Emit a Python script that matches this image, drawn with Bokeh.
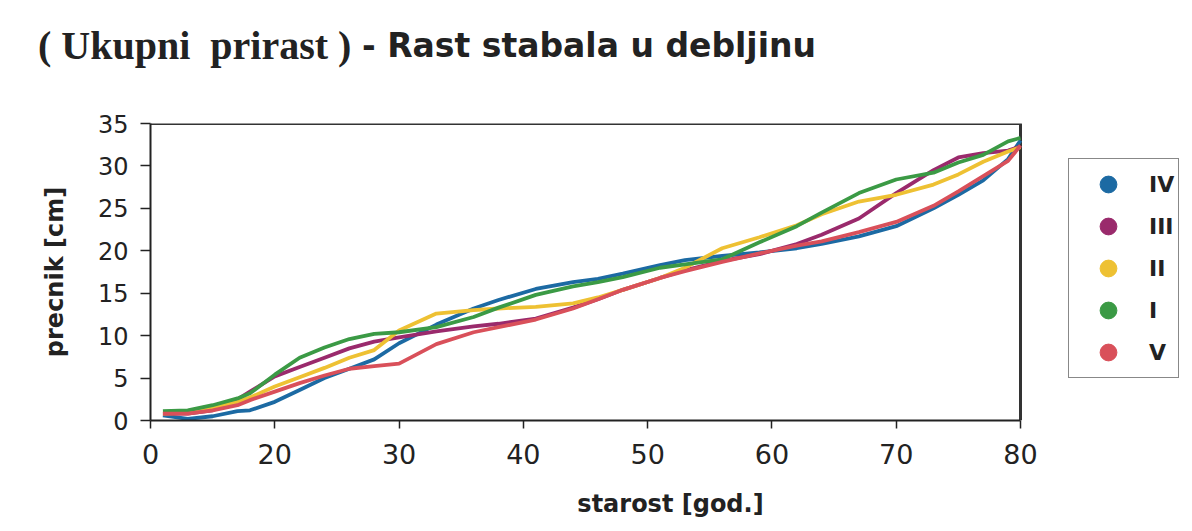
from bokeh.plotting import figure
from bokeh.layouts import column
from bokeh.models import Range1d, FixedTicker, Legend, LegendItem, Div
from bokeh.embed import file_html
from bokeh.resources import INLINE

# ---- data ----
ages = [11, 13, 15, 17, 18, 20, 22, 24, 26, 28, 30, 33, 36, 38, 41, 44, 46, 48,
        51, 53, 56, 59, 62, 64, 67, 70, 73, 75, 77, 79, 80]

iv  = [0.6, 0.2, 0.5, 1.1, 1.2, 2.2, 3.6, 5.0, 6.1, 7.2, 9.1, 11.3, 13.2, 14.2, 15.5, 16.3, 16.7, 17.3,
       18.3, 18.9, 19.4, 19.8, 20.3, 20.8, 21.7, 22.9, 25.0, 26.6, 28.3, 30.8, 33.0]
iii = [0.8, 0.8, 1.2, 2.5, 3.4, 5.2, 6.3, 7.4, 8.5, 9.3, 9.8, 10.5, 11.1, 11.4, 12.0, 13.3, 14.3, 15.4,
       16.8, 17.7, 18.8, 19.6, 20.8, 21.9, 23.8, 26.8, 29.5, 31.0, 31.5, 31.8, 32.3]
ii  = [0.8, 0.9, 1.5, 2.2, 2.7, 4.0, 5.1, 6.2, 7.4, 8.3, 10.6, 12.6, 13.0, 13.2, 13.4, 13.8, 14.5, 15.4,
       16.8, 18.0, 20.3, 21.6, 23.0, 24.3, 25.8, 26.6, 27.8, 29.0, 30.5, 31.7, 32.2]
i_  = [1.1, 1.2, 1.8, 2.6, 3.2, 5.4, 7.4, 8.6, 9.6, 10.2, 10.4, 11.0, 12.2, 13.3, 14.8, 15.8, 16.3, 16.9,
       18.0, 18.4, 19.0, 21.0, 22.9, 24.5, 26.8, 28.4, 29.2, 30.4, 31.3, 32.9, 33.3]
v   = [0.8, 0.8, 1.2, 1.8, 2.4, 3.4, 4.4, 5.3, 6.1, 6.4, 6.7, 9.0, 10.4, 11.0, 11.9, 13.2, 14.3, 15.4,
       16.8, 17.6, 18.7, 19.7, 20.6, 21.1, 22.2, 23.4, 25.3, 27.0, 28.8, 30.6, 32.4]

series_names = ["IV", "III", "II", "I", "V"]
series_values = [iv, iii, ii, i_, v]
series_colors = ["#1c6aa3", "#9a2a6c", "#eec133", "#3b9a45", "#d9505a"]

x_min, x_max = 10, 80
y_min, y_max = 0, 35
x_tick_values = [10, 20, 30, 40, 50, 60, 70, 80]
x_tick_labels = ["0", "20", "30", "40", "50", "60", "70", "80"]
y_tick_values = [0, 5, 10, 15, 20, 25, 30, 35]

title_part1 = "( Ukupni&nbsp; prirast )"
title_part2 = "- Rast stabala u debljinu"

W = 1190

# ---- title ----
title_html = (
    '<div style="position:relative;width:%dpx;height:88px;color:#222222;">' % W +
    '<span style="position:absolute;left:38px;top:17px;white-space:nowrap;'
    'font-family:\'Liberation Serif\';font-weight:bold;font-size:40px;">' + title_part1 + '</span>'
    '<span style="position:absolute;left:362px;top:22px;white-space:nowrap;'
    'font-family:\'DejaVu Sans\';font-weight:bold;font-size:33px;">' + title_part2 + '</span>'
    '</div>'
)
title_div = Div(text=title_html, width=W, height=88, margin=0)

# ---- main chart ----
# plot box is 870 px wide for x 10..80; the frame continues to the right edge to host the legend
H = 435
left_border, box_width = 150, 870
x_end = x_min + (x_max - x_min) * (W - left_border) / box_width

p = figure(width=W, height=H, output_backend="svg", toolbar_location=None,
           x_range=Range1d(x_min, x_end), y_range=Range1d(y_min, y_max),
           min_border_left=left_border, min_border_right=0,
           min_border_top=35, min_border_bottom=103)
p.background_fill_color = "white"
p.border_fill_color = "white"
p.xgrid.visible = False
p.ygrid.visible = False
p.outline_line_color = None

for ax in (p.xaxis[0], p.yaxis[0]):
    ax.axis_line_color = "#222222"
    ax.axis_line_width = 2
    ax.major_tick_line_color = "#222222"
    ax.major_tick_line_width = 1.5
    ax.minor_tick_line_color = None
    ax.major_tick_in = 0
    ax.major_label_text_font = "DejaVu Sans"
    ax.major_label_text_color = "#222222"
    ax.axis_label_text_font = "DejaVu Sans"
    ax.axis_label_text_font_style = "bold"
    ax.axis_label_text_font_size = "24px"
    ax.axis_label_text_color = "#222222"

p.xaxis.bounds = (x_min, x_max)
p.xaxis.ticker = FixedTicker(ticks=x_tick_values)
p.xaxis.major_label_overrides = {t: l for t, l in zip(x_tick_values, x_tick_labels)}
p.xaxis.major_label_text_font_size = "27px"
p.xaxis.major_tick_out = 8
p.xaxis.major_label_standoff = 15
p.xaxis.axis_label = "starost [god.]"
p.xaxis.axis_label_standoff = 23

p.yaxis.ticker = FixedTicker(ticks=y_tick_values)
p.yaxis.major_label_text_font_size = "24px"
p.yaxis.major_tick_out = 10
p.yaxis.major_label_standoff = 12
p.yaxis.axis_label = "precnik [cm]"
p.yaxis.axis_label_standoff = 26

# top and right edges of the plot box
p.line([x_min, x_max, x_max], [y_max, y_max, y_min], line_color="#333333", line_width=3)

items = []
for name, vals, col in zip(series_names, series_values, series_colors):
    p.line(ages, vals, line_color=col, line_width=3.8)
nan = float("nan")
for name, col in zip(series_names, series_colors):
    dot = p.scatter(x=[nan], y=[nan], marker="circle", size=20,
                    fill_color=col, line_color=col)
    items.append(LegendItem(label=name, renderers=[dot]))

legend = Legend(items=items, location=(918, 42), orientation="vertical",
                glyph_width=70, glyph_height=42, spacing=0, padding=4,
                label_standoff=6, margin=0,
                label_text_font="DejaVu Sans", label_text_font_style="bold",
                label_text_font_size="22px", label_text_color="#222222",
                border_line_color="#111111", border_line_width=1.5,
                background_fill_color="white", background_fill_alpha=1.0)
p.add_layout(legend)

open("out.html", "w").write(file_html(column(title_div, p, spacing=0), INLINE))
